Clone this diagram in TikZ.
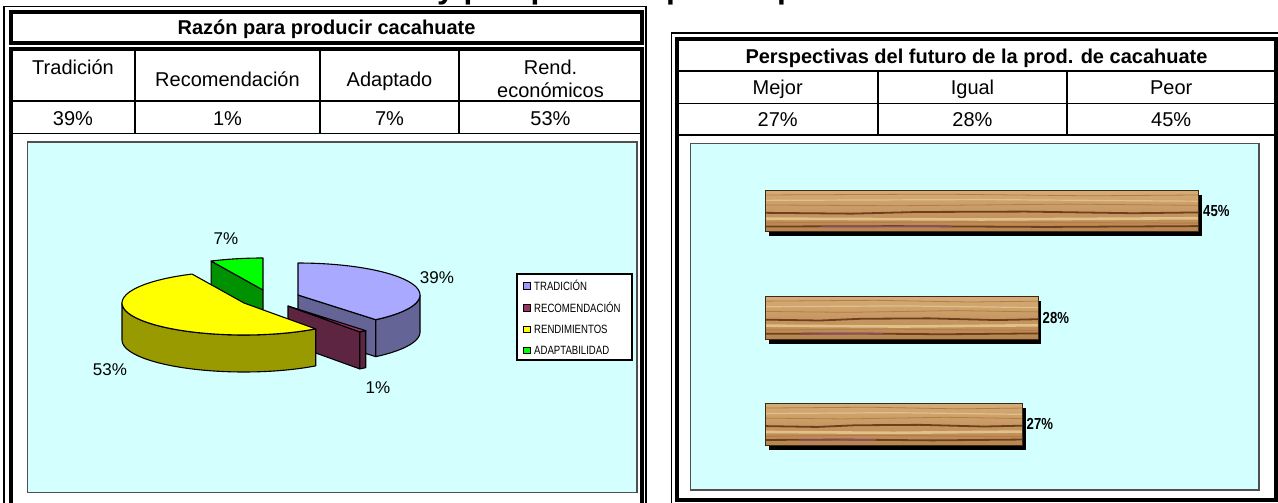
\documentclass[tikz,border=0pt]{standalone}
\usepackage{fontspec}
\setmainfont{Liberation Sans}
\usepackage{graphicx}
\definecolor{chartcyan}{HTML}{D4FFFF}
\definecolor{chartedge}{HTML}{505050}
\definecolor{tradtop}{HTML}{A9A9FF}
\definecolor{tradside}{HTML}{646496}
\definecolor{rectop}{HTML}{993366}
\definecolor{recside}{HTML}{5E2543}
\definecolor{yeltop}{HTML}{FFFF00}
\definecolor{yelside}{HTML}{999900}
\definecolor{grntop}{HTML}{00FF00}
\definecolor{grnside}{HTML}{009100}
\definecolor{legtrad}{HTML}{9999FF}
\definecolor{wooda}{HTML}{D6AC76}
\definecolor{woodb}{HTML}{B8844E}
\definecolor{woodlight}{HTML}{E2C08A}
\definecolor{wooddark}{HTML}{6E3F1C}
\definecolor{woodmid}{HTML}{B07E48}
\definecolor{woodpurp}{HTML}{8A4E6A}
\definecolor{woodedge}{HTML}{3A2A1A}

\newcommand\myPieTop[5]{% cx cy a b color
  \filldraw[pieline, fill=#5] (#1,#2) -- plot[domain=#3:#4, samples=40] ({#1+\pRx*cos(\x)},{#2-\pRy*sin(\x)}) -- cycle;}
\newcommand\myPieSide[5]{% cx cy a b color
  \filldraw[pieline, fill=#5] plot[domain=#3:#4, samples=40] ({#1+\pRx*cos(\x)},{#2-\pRy*sin(\x)}) -- plot[domain=#4:#3, samples=40] ({#1+\pRx*cos(\x)},{#2+\pH-\pRy*sin(\x)}) -- cycle;}
\newcommand\myPieCut[4]{% cx cy ang color
  \filldraw[pieline, fill=#4] (#1,#2) -- ({#1+\pRx*cos(#3)},{#2-\pRy*sin(#3)}) -- ({#1+\pRx*cos(#3)},{#2+\pH-\pRy*sin(#3)}) -- (#1,{#2+\pH}) -- cycle;}
\def\pRx{122}\def\pRy{32}\def\pH{37}

\newcommand\myWoodBar[4]{% x1 y1 x2 y2
  \pgfmathsetmacro\wH{#4-#2}\pgfmathsetmacro\wW{#3-#1}
  \fill[black] ({#1+3},{#2+4.5}) rectangle ({#3+3},{#4+4.5});
  \shade[top color=wooda, bottom color=woodb] (#1,#2) rectangle (#3,#4);
  \draw[woodmid, line width=0.8pt] (#1,{#2+0.12*\wH}) -- ({#1+0.4*\wW},{#2+0.10*\wH}) -- ({#1+0.75*\wW},{#2+0.14*\wH}) -- (#3,{#2+0.12*\wH});
  \draw[woodlight, line width=1.2pt] (#1,{#2+0.25*\wH}) -- ({#1+0.5*\wW},{#2+0.23*\wH}) -- (#3,{#2+0.27*\wH});
  \draw[woodmid, line width=0.8pt] (#1,{#2+0.36*\wH}) -- ({#1+0.3*\wW},{#2+0.38*\wH}) -- ({#1+0.7*\wW},{#2+0.34*\wH}) -- (#3,{#2+0.37*\wH});
  \draw[wooddark, line width=1.8pt] (#1,{#2+0.55*\wH}) -- ({#1+0.2*\wW},{#2+0.57*\wH}) -- ({#1+0.35*\wW},{#2+0.53*\wH}) -- ({#1+0.6*\wW},{#2+0.52*\wH}) -- ({#1+0.85*\wW},{#2+0.56*\wH}) -- (#3,{#2+0.54*\wH});
  \draw[woodlight, line width=2.6pt] (#1,{#2+0.69*\wH}) -- ({#1+0.5*\wW},{#2+0.71*\wH}) -- (#3,{#2+0.68*\wH});
  \draw[woodmid, line width=1pt] (#1,{#2+0.79*\wH}) -- ({#1+0.45*\wW},{#2+0.77*\wH}) -- (#3,{#2+0.8*\wH});
  \draw[wooddark, line width=1.8pt] (#1,{#2+0.88*\wH}) -- ({#1+0.3*\wW},{#2+0.87*\wH}) -- ({#1+0.65*\wW},{#2+0.89*\wH}) -- (#3,{#2+0.87*\wH});
  \draw[woodpurp, line width=1.4pt] ({#1+0.13*\wW},{#2+0.885*\wH}) -- ({#1+0.43*\wW},{#2+0.875*\wH});
  \draw[woodedge, line width=0.8pt] (#1,#2) rectangle (#3,#4);}

\begin{document}
\begin{tikzpicture}[x=1pt,y=-1pt,
  thinln/.style={line width=1.4pt},
  thickln/.style={line width=4pt},
  cell/.style={inner sep=0pt, text height=14.3pt, text depth=0pt, font=\fontsize{20}{24}\selectfont},
  celltitle/.style={inner sep=0pt, text height=14.3pt, text depth=0pt, font=\fontsize{20}{24}\selectfont\bfseries},
  pielbl/.style={inner sep=0pt, text height=12pt, text depth=0pt, font=\fontsize{17}{20}\selectfont},
  legtxt/.style={inner sep=0pt, anchor=west, text height=8.6pt, text depth=0pt, font=\fontsize{12}{14}\selectfont},
  legmark/.style={draw=black, line width=0.9pt, minimum size=6.5pt, inner sep=0pt},
  barlbl/.style={inner sep=0pt, anchor=west, text height=11.5pt, text depth=0pt, font=\fontsize{16}{19}\selectfont\bfseries},
  chartbg/.style={fill=chartcyan, draw=chartedge, line width=1.4pt},
  pieline/.style={draw=black, line width=1.1pt, line join=round}]
\useasboundingbox (0,0) rectangle (1278,503);
\fill[white] (0,0) rectangle (1278,503);
\clip (0,0) rectangle (1278,503);

% cut-off page title (only its lowest part lies inside the page)
\node[anchor=base west, inner sep=0pt, font=\fontsize{31.7}{36}\selectfont\bfseries] (pagetitle) at (437,-1) {y perspectivas para la producción};

% ---------------- left panel ----------------
\draw[line width=1.6pt] (4,510) -- (4,6.7) -- (645.8,6.7) -- (645.8,510);
\draw[thickln] (11,12) rectangle (642,43.3);
\draw[thickln] (11,510) -- (11,49) -- (642,49) -- (642,510);
\draw[thinln] (11,101.2) -- (642,101.2);
\draw[thinln] (11,133.7) -- (642,133.7);
\foreach \cx in {135,320,459} \draw[thinln] (\cx,50) -- (\cx,133.7);

\node[celltitle] (lt) at (326.5,27.7) {Razón para producir cacahuate};
\node[cell] (h1) at (73,67) {Tradición};
\node[cell] (h2) at (227.5,79) {Recomendación};
\node[cell] (h3) at (389.5,79) {Adaptado};
\node[cell] (h4a) at (550.5,67) {Rend.};
\node[cell] (h4b) at (550.5,90) {económicos};
\node[cell] (v1) at (73,118) {39\%};
\node[cell] (v2) at (227.5,118) {1\%};
\node[cell] (v3) at (389.5,118) {7\%};
\node[cell] (v4) at (550.5,118) {53\%};

\draw[chartbg] (27.5,142) rectangle (637,492.5);

% pie: Adaptabilidad (green)
\myPieCut{263}{290}{115.2}{grnside}
\myPieTop{263}{290}{90}{115.2}{grntop}
% Tradicion
\myPieCut{298}{295}{-50.4}{tradside}
\myPieSide{298}{295}{-50.4}{0}{tradside}
\myPieTop{298}{295}{-50.4}{90}{tradtop}
% Recomendacion
\myPieCut{288}{306}{-54}{recside}
\myPieSide{288}{306}{-54}{-50.4}{recside}
\myPieTop{288}{306}{-54}{-50.4}{rectop}
% Rendimientos
\myPieSide{244}{303}{180}{306}{yelside}
\myPieTop{244}{303}{115.2}{306}{yeltop}

\node[pielbl] (p7) at (226,238) {7\%};
\node[pielbl] (p39) at (437,277) {39\%};
\node[pielbl] (p53) at (110,369) {53\%};
\node[pielbl] (p1) at (378,387) {1\%};

% legend
\node[draw=black, fill=white, line width=1.1pt, minimum width=115pt, minimum height=86pt, inner sep=0pt] (legbox) at (574.5,317) {};
\node[legmark, fill=legtrad] (m1) at (527,286) {};
\node[legmark, fill=rectop] (m2) at (527,308) {};
\node[legmark, fill=yeltop] (m3) at (527,329.5) {};
\node[legmark, fill=grntop] (m4) at (527,350.5) {};
\node[legtxt] (t1) at (534,286) {\scalebox{0.8}[1]{TRADICIÓN}};
\node[legtxt] (t2) at (534,308) {\scalebox{0.8}[1]{RECOMENDACIÓN}};
\node[legtxt] (t3) at (534,329.5) {\scalebox{0.8}[1]{RENDIMIENTOS}};
\node[legtxt] (t4) at (534,350.5) {\scalebox{0.8}[1]{ADAPTABILIDAD}};

% ---------------- right panel ----------------
\draw[line width=1.6pt] (671.5,510) -- (671.5,33.3) -- (1290,33.3);
\draw[thickln] (677,39) rectangle (1275.5,500.3);
\draw[thinln] (677,71) -- (1275.5,71);
\draw[thinln] (677,103.5) -- (1275.5,103.5);
\draw[thinln] (677,135) -- (1275.5,135);
\foreach \cx in {878,1067} \draw[thinln] (\cx,71) -- (\cx,135);

\node[celltitle] (rt) at (976.5,56) {Perspectivas del futuro de la prod. de cacahuate};
\node[cell] (r1) at (777.7,87.5) {Mejor};
\node[cell] (r2) at (972.5,87.5) {Igual};
\node[cell] (r3) at (1171.2,87.5) {Peor};
\node[cell] (w1) at (777.7,119.5) {27\%};
\node[cell] (w2) at (972.5,119.5) {28\%};
\node[cell] (w3) at (1171.2,119.5) {45\%};

\draw[chartbg] (690.5,143.5) rectangle (1259,490);

\myWoodBar{765.5}{190}{1198.5}{231.5}
\myWoodBar{765.5}{296}{1038}{339}
\myWoodBar{765.5}{403}{1022.5}{445}
\node[barlbl] (b45) at (1203,211) {\scalebox{0.82}[1]{45\%}};
\node[barlbl] (b28) at (1042.5,317.5) {\scalebox{0.82}[1]{28\%}};
\node[barlbl] (b27) at (1026.5,424) {\scalebox{0.82}[1]{27\%}};
\end{tikzpicture}
\end{document}
